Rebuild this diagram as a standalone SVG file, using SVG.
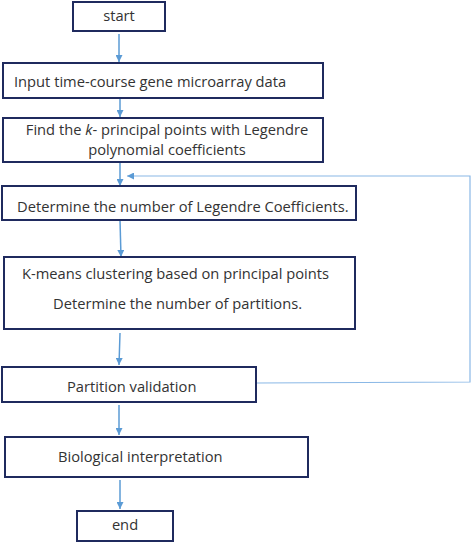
<svg xmlns="http://www.w3.org/2000/svg" width="472" height="543" viewBox="0 0 472 543">
<defs>
<style>
.box{fill:#fff;stroke:#1f2a5e;stroke-width:2}
.t{font-family:"Open Sans","Noto Sans",sans-serif;font-size:14.7px;fill:#333}
.a{fill:none;stroke:#5b9bd5;stroke-width:1.5}
.fb{fill:none;stroke:#8ab8e6;stroke-width:1.2}
</style>
<marker id="ah" viewBox="0 0 10 10" refX="10" refY="5" markerWidth="7" markerHeight="7" markerUnits="userSpaceOnUse" orient="auto">
<path d="M0,0 L10,5 L0,10 z" fill="#5b9bd5"/>
</marker>
</defs>
<rect width="472" height="543" fill="#fff"/>
<g id="connectors">
<line class="a" x1="119" y1="34" x2="119" y2="62" marker-end="url(#ah)"/>
<line class="a" x1="120" y1="98" x2="120" y2="117" marker-end="url(#ah)"/>
<line class="a" x1="120" y1="162" x2="120" y2="186" marker-end="url(#ah)"/>
<line class="a" x1="120" y1="220" x2="121" y2="257" marker-end="url(#ah)"/>
<line class="a" x1="120" y1="333" x2="119" y2="365" marker-end="url(#ah)"/>
<line class="a" x1="119" y1="405" x2="119" y2="435" marker-end="url(#ah)"/>
<line class="a" x1="120" y1="480" x2="120" y2="509" marker-end="url(#ah)"/>
<polyline class="fb" points="257,383 470,382 470,176 127,176" marker-end="url(#ah)"/>
</g>
<g id="start"><rect class="box" x="73" y="2" width="92" height="29"/><text class="t" x="119" y="21" text-anchor="middle">start</text></g>
<g id="input"><rect class="box" x="3" y="63" width="320" height="35"/><text class="t" x="14" y="87">Input time-course gene microarray data</text></g>
<g id="find"><rect class="box" x="3" y="118" width="320" height="44"/><text class="t" x="167" y="135" text-anchor="middle">Find the <tspan font-style="italic">k</tspan>- principal points with Legendre</text><text class="t" x="167" y="154.5" text-anchor="middle">polynomial coefficients</text></g>
<g id="determine"><rect class="box" x="2" y="186" width="354" height="34"/><text class="t" x="17" y="212">Determine the number of Legendre Coefficients.</text></g>
<g id="kmeans"><rect class="box" x="4" y="257" width="351" height="72"/><text class="t" x="22" y="279">K-means clustering based on principal points</text><text class="t" x="53" y="309">Determine the number of partitions.</text></g>
<g id="partition"><rect class="box" x="2" y="367" width="254" height="35"/><text class="t" x="67" y="392">Partition validation</text></g>
<g id="bio"><rect class="box" x="5" y="437" width="303" height="40"/><text class="t" x="58" y="462">Biological interpretation</text></g>
<g id="end"><rect class="box" x="77" y="511" width="96" height="30"/><text class="t" x="125" y="530" text-anchor="middle">end</text></g>
</svg>
